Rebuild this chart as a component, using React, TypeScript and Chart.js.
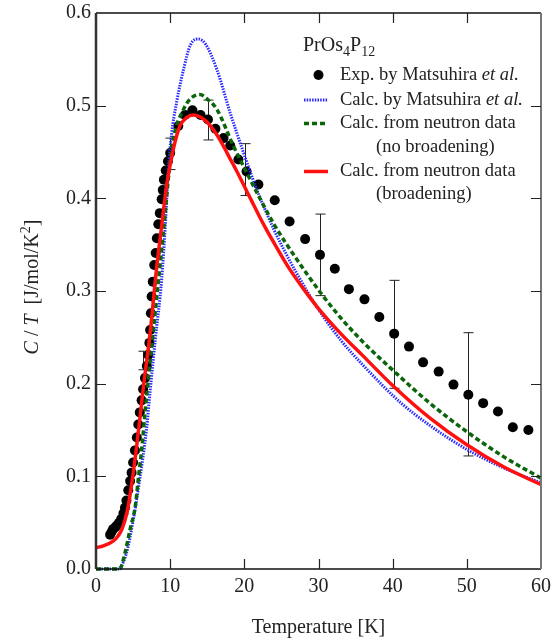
import { useEffect, useRef } from "react";
import { Chart, registerables } from "chart.js";

Chart.register(...registerables);

// ---- data ----
const expT = [1.9, 2.1, 2.3, 2.6, 2.8, 3.1, 3.4, 3.7, 3.9, 4.1, 4.35, 4.6, 4.8, 5.0, 5.25, 5.5, 5.7, 5.9, 6.15, 6.35, 6.6, 6.85, 7.05, 7.2, 7.3, 7.4, 7.5, 7.65, 7.85, 8.05, 8.2, 8.4, 8.6, 8.85, 9.0, 9.15, 9.4, 9.7, 10.0, 11.1, 12.0, 13.0, 14.1, 15.1, 16.1, 17.2, 18.1, 19.2, 20.3, 21.9, 24.1, 26.1, 28.2, 30.2, 32.2, 34.1, 36.2, 38.2, 40.2, 42.2, 44.1, 46.2, 48.2, 50.2, 52.2, 54.2, 56.2, 58.3];
const expC = [0.037, 0.040, 0.043, 0.045, 0.047, 0.050, 0.054, 0.060, 0.066, 0.074, 0.085, 0.095, 0.104, 0.115, 0.128, 0.142, 0.156, 0.169, 0.182, 0.194, 0.206, 0.219, 0.231, 0.244, 0.258, 0.276, 0.294, 0.310, 0.328, 0.341, 0.357, 0.372, 0.384, 0.399, 0.409, 0.420, 0.430, 0.440, 0.449, 0.478, 0.490, 0.495, 0.490, 0.485, 0.475, 0.465, 0.457, 0.442, 0.429, 0.415, 0.398, 0.375, 0.356, 0.339, 0.324, 0.302, 0.291, 0.272, 0.254, 0.240, 0.223, 0.213, 0.199, 0.188, 0.179, 0.170, 0.153, 0.150];

const errT = [6.3, 10.0, 15.1, 20.1, 30.2, 40.2, 50.2];
const errLow = [0.215, 0.431, 0.463, 0.403, 0.295, 0.195, 0.122];
const errHigh = [0.235, 0.465, 0.506, 0.459, 0.383, 0.3115, 0.255];

const matsT = [0, 2.8, 3.3, 4.1, 5.0, 5.9, 6.8, 7.3, 8.0, 8.85, 9.4, 9.74, 10.2, 10.9, 11.8, 12.7, 13.8, 14.8, 16.3, 18.1, 19.9, 21, 22, 23, 24, 25.5, 27, 30, 33, 36, 41, 45, 50, 55, 60];
const matsC = [0, 0, 0.002, 0.017, 0.052, 0.097, 0.150, 0.192, 0.248, 0.312, 0.378, 0.430, 0.470, 0.505, 0.539, 0.565, 0.572, 0.566, 0.539, 0.492, 0.449, 0.424, 0.403, 0.384, 0.366, 0.342, 0.320, 0.280, 0.247, 0.220, 0.180, 0.155, 0.129, 0.109, 0.093];

const noBroadT = [0, 3.2, 3.9, 4.6, 5.3, 5.7, 6.2, 6.6, 7.05, 8.0, 9.3, 9.74, 10.4, 11.8, 12.8, 14.0, 15.0, 16.3, 18.5, 20.3, 21.9, 24, 27, 30.2, 33, 36, 40.1, 45, 50.2, 55, 60];
const noBroadC = [0, 0, 0.017, 0.043, 0.068, 0.097, 0.132, 0.168, 0.204, 0.278, 0.382, 0.420, 0.463, 0.496, 0.508, 0.512, 0.507, 0.496, 0.457, 0.428, 0.403, 0.372, 0.335, 0.299, 0.271, 0.245, 0.214, 0.179, 0.147, 0.121, 0.098];

const broadT = [0, 1, 2.3, 3.0, 3.5, 4.2, 4.8, 5.4, 6.0, 6.4, 7.3, 8.2, 8.85, 9.5, 10.4, 11.3, 12.2, 13.1, 14.0, 15.0, 16.0, 17.0, 18.0, 19.0, 20.0, 21.0, 22.0, 23.0, 24.0, 26.0, 28.0, 30.0, 33, 36, 40, 45, 50, 55, 60];
const broadC = [0.023, 0.025, 0.030, 0.036, 0.043, 0.062, 0.091, 0.127, 0.168, 0.197, 0.255, 0.327, 0.370, 0.413, 0.452, 0.478, 0.487, 0.490, 0.488, 0.482, 0.472, 0.459, 0.444, 0.429, 0.413, 0.397, 0.381, 0.366, 0.352, 0.325, 0.302, 0.281, 0.254, 0.230, 0.198, 0.163, 0.134, 0.110, 0.091];

const xTicks = [0, 10, 20, 30, 40, 50, 60];
const yTicks = [0, 0.1, 0.2, 0.3, 0.4, 0.5, 0.6];

const compound = ["PrOs", "4", "P", "12"];
const legendLabels = [
  ["Exp. by Matsuhira ", "et al."],
  ["Calc. by Matsuhira ", "et al."],
  ["Calc. from neutron data", "(no broadening)"],
  ["Calc. from neutron data", "(broadening)"],
];
const xTitle = "Temperature [K]";

const FONT = "'Liberation Serif', 'Times New Roman', serif";
const BLUE = "#2a2aff";
const GREEN = "#0b660b";
const RED = "#ff1010";

type Run = { t: string; italic?: boolean; size?: number; dy?: number };

function drawRuns(ctx: CanvasRenderingContext2D, x: number, y: number, runs: Run[], base: number) {
  let cx = x;
  for (const r of runs) {
    ctx.font = `${r.italic ? "italic " : ""}${r.size ?? base}px ${FONT}`;
    ctx.fillText(r.t, cx, y + (r.dy ?? 0));
    cx += ctx.measureText(r.t).width;
  }
}
function runsWidth(ctx: CanvasRenderingContext2D, runs: Run[], base: number) {
  let w = 0;
  for (const r of runs) {
    ctx.font = `${r.italic ? "italic " : ""}${r.size ?? base}px ${FONT}`;
    w += ctx.measureText(r.t).width;
  }
  return w;
}

const decorPlugin = {
  id: "decor",
  beforeDatasetsDraw(chart: any) {
    const ctx: CanvasRenderingContext2D = chart.ctx;
    const xs = chart.scales.x, ys = chart.scales.y;
    ctx.save();
    ctx.strokeStyle = "#222";
    ctx.lineWidth = 1;
    for (let i = 0; i < errT.length; i++) {
      const px = Math.round(xs.getPixelForValue(errT[i])) + 0.5;
      const y1 = ys.getPixelForValue(errLow[i]);
      const y2 = ys.getPixelForValue(errHigh[i]);
      ctx.beginPath();
      ctx.moveTo(px, y1); ctx.lineTo(px, y2);
      ctx.moveTo(px - 5, y1); ctx.lineTo(px + 5, y1);
      ctx.moveTo(px - 5, y2); ctx.lineTo(px + 5, y2);
      ctx.stroke();
    }
    ctx.restore();
  },
  afterDraw(chart: any) {
    const ctx: CanvasRenderingContext2D = chart.ctx;
    const { left, right, top, bottom } = chart.chartArea;
    const xs = chart.scales.x, ys = chart.scales.y;
    ctx.save();
    // frame
    ctx.lineWidth = 1.5;
    ctx.strokeStyle = "#111";
    ctx.beginPath();
    ctx.moveTo(left, top); ctx.lineTo(right, top);
    ctx.moveTo(left, bottom); ctx.lineTo(right, bottom);
    ctx.stroke();
    ctx.strokeStyle = "#333";
    ctx.lineWidth = 2.5;
    ctx.beginPath(); ctx.moveTo(left, top); ctx.lineTo(left, bottom); ctx.stroke();
    ctx.strokeStyle = "#777";
    ctx.lineWidth = 2;
    ctx.beginPath(); ctx.moveTo(right, top); ctx.lineTo(right, bottom); ctx.stroke();
    // inward ticks
    ctx.strokeStyle = "#222";
    ctx.lineWidth = 1.2;
    ctx.beginPath();
    for (const t of xs.ticks) {
      const px = Math.round(xs.getPixelForValue(t.value)) + 0.5;
      if (px <= left + 2 || px >= right - 2) continue;
      ctx.moveTo(px, bottom); ctx.lineTo(px, bottom - 10);
      ctx.moveTo(px, top); ctx.lineTo(px, top + 10);
    }
    for (const t of ys.ticks) {
      const py = Math.round(ys.getPixelForValue(t.value)) + 0.5;
      if (py <= top + 2 || py >= bottom - 2) continue;
      ctx.moveTo(left, py); ctx.lineTo(left + 10, py);
      ctx.moveTo(right, py); ctx.lineTo(right - 10, py);
    }
    ctx.stroke();

    // y title
    ctx.fillStyle = "#222";
    ctx.textBaseline = "middle";
    const yRuns: Run[] = [
      { t: "C", italic: true }, { t: " / " }, { t: "T", italic: true },
      { t: "  [J/mol/K" }, { t: "2", size: 14, dy: -7 }, { t: "]" },
    ];
    const w = runsWidth(ctx, yRuns, 20);
    ctx.save();
    ctx.translate(33, 287);
    ctx.rotate(-Math.PI / 2);
    drawRuns(ctx, -w / 2, 0, yRuns, 20);
    ctx.restore();

    // legend
    ctx.textBaseline = "alphabetic";
    drawRuns(ctx, 303, 51, [
      { t: compound[0] }, { t: compound[1], size: 14, dy: 5 },
      { t: compound[2] }, { t: compound[3], size: 14, dy: 5 },
    ], 20);
    ctx.textBaseline = "middle";
    const tx = 340;
    const rows = [75, 100, 123.5, 171.5];
    drawRuns(ctx, tx, rows[0], [{ t: legendLabels[0][0] }, { t: legendLabels[0][1], italic: true }], 18.5);
    drawRuns(ctx, tx, rows[1], [{ t: legendLabels[1][0] }, { t: legendLabels[1][1], italic: true }], 18.5);
    drawRuns(ctx, tx, rows[2], [{ t: legendLabels[2][0] }], 18.5);
    drawRuns(ctx, 376, 147, [{ t: legendLabels[2][1] }], 18.5);
    drawRuns(ctx, tx, rows[3], [{ t: legendLabels[3][0] }], 18.5);
    drawRuns(ctx, 376, 194, [{ t: legendLabels[3][1] }], 18.5);

    // legend markers
    ctx.fillStyle = "#000";
    ctx.beginPath(); ctx.arc(318.5, 75, 5, 0, Math.PI * 2); ctx.fill();
    ctx.lineWidth = 3;
    ctx.strokeStyle = BLUE; ctx.setLineDash([1.5, 1.2]);
    ctx.beginPath(); ctx.moveTo(304, 100); ctx.lineTo(328, 100); ctx.stroke();
    ctx.strokeStyle = GREEN; ctx.setLineDash([5, 3]); ctx.lineWidth = 3.5;
    ctx.beginPath(); ctx.moveTo(304, 123.5); ctx.lineTo(328, 123.5); ctx.stroke();
    ctx.strokeStyle = RED; ctx.setLineDash([]);
    ctx.beginPath(); ctx.moveTo(304, 171.5); ctx.lineTo(328, 171.5); ctx.stroke();
    ctx.restore();
  },
};

export default function App() {
  const ref = useRef<HTMLCanvasElement | null>(null);
  useEffect(() => {
    if (!ref.current) return;
    const pts = (xs: number[], ys: number[]) => xs.map((x, i) => ({ x, y: ys[i] }));
    const chart = new Chart(ref.current, {
      type: "scatter",
      data: {
        datasets: [
          {
            label: "Calc. from neutron data (broadening)",
            data: pts(broadT, broadC),
            showLine: true, borderColor: RED, borderWidth: 3.5, pointRadius: 0,
            cubicInterpolationMode: "monotone", order: 0,
          },
          {
            label: "Calc. from neutron data (no broadening)",
            data: pts(noBroadT, noBroadC),
            showLine: true, borderColor: GREEN, borderWidth: 3.5, borderDash: [5, 3], pointRadius: 0,
            cubicInterpolationMode: "monotone", order: 1,
          },
          {
            label: "Calc. by Matsuhira et al.",
            data: pts(matsT, matsC),
            showLine: true, borderColor: BLUE, borderWidth: 3, borderDash: [1.5, 1.2], pointRadius: 0,
            cubicInterpolationMode: "monotone", order: 2,
          },
          {
            label: "Exp. by Matsuhira et al.",
            data: pts(expT, expC),
            showLine: false, pointRadius: 5, pointBackgroundColor: "#000", pointBorderWidth: 0,
            backgroundColor: "#000", order: 3,
          },
        ],
      } as any,
      options: {
        responsive: false,
        animation: false,
        devicePixelRatio: 1,
        clip: false as any,
        layout: { padding: { top: 13, right: 11, left: 0, bottom: 0 } },
        plugins: { legend: { display: false }, tooltip: { enabled: false } },
        scales: {
          x: {
            type: "linear", min: 0, max: 60,
            grid: { display: false, drawTicks: false },
            border: { display: false },
            afterBuildTicks: (s: any) => { s.ticks = xTicks.map((v) => ({ value: v })); },
            afterFit: (s: any) => { s.height = 69; s.paddingLeft = 0; s.paddingRight = 0; },
            ticks: { font: { family: FONT, size: 20 }, color: "#222", padding: 6, maxRotation: 0, callback: (v: any) => String(v) },
            title: { display: true, text: xTitle, font: { family: FONT, size: 20, lineHeight: 1.0 }, color: "#222", padding: { top: 0, bottom: 0 } },
          },
          y: {
            type: "linear", min: 0, max: 0.6,
            grid: { display: false, drawTicks: false },
            border: { display: false },
            afterBuildTicks: (s: any) => { s.ticks = yTicks.map((v) => ({ value: v })); },
            afterFit: (s: any) => { s.width = 96; s.paddingTop = 0; s.paddingBottom = 0; },
            ticks: { font: { family: FONT, size: 20 }, color: "#222", padding: 5, callback: (v: any) => Number(v).toFixed(1) },
          },
        },
      } as any,
      plugins: [decorPlugin],
    });
    return () => chart.destroy();
  }, []);
  return (
    <div style={{ position: "fixed", left: 0, top: 0, width: 552, height: 638, background: "#fff" }}>
      <canvas ref={ref} width={552} height={638} style={{ display: "block" }} />
    </div>
  );
}
